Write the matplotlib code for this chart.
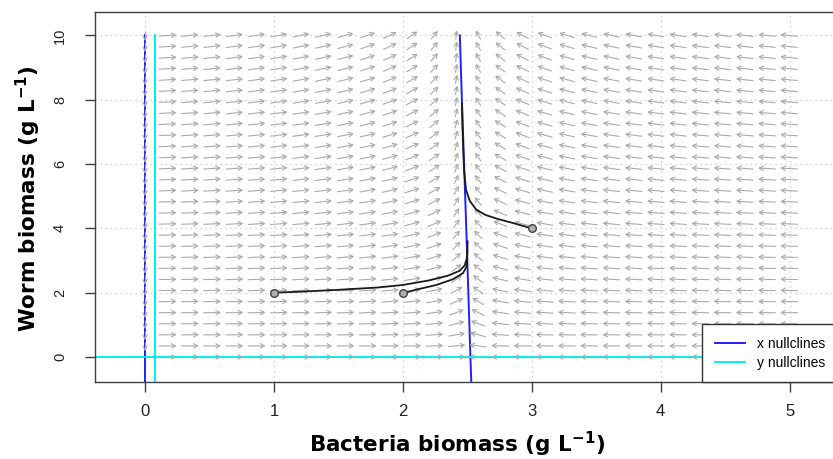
import numpy as np
import matplotlib
matplotlib.use("Agg")
import matplotlib.pyplot as plt
from matplotlib.collections import LineCollection
from matplotlib.lines import Line2D

plt.rcParams['font.family'] = ['Liberation Sans', 'DejaVu Sans']

# ---------------- data ----------------
x_ticks = [0, 1, 2, 3, 4, 5]
y_ticks = [0, 2, 4, 6, 8, 10]
x_label = r'Bacteria biomass (g L$^{\mathbf{-1}}$)'
y_label = r'Worm biomass (g L$^{\mathbf{-1}}$)'

# model behind the flow field (bacteria B, worms W)
r_growth = 1.0
K_capacity = 2.524
a_grazing = 0.00325
e_conversion = 0.042
m_mortality = 0.00328
field_B_range = [0, 5]
field_W_range = [0, 10]
field_points = 30

# nullclines
xnull1_B = [0.0, 0.0]
xnull1_W = [-0.78, 10.0]
xnull2_B = [2.442, 2.458, 2.475, 2.492, 2.508, 2.524, 2.531]
xnull2_W = [10.0, 8.0, 6.0, 4.0, 2.0, 0.0, -0.78]
ynull1_B = [-0.39, 5.6]
ynull1_W = [0.0, 0.0]
ynull2_B = [0.078, 0.078]
ynull2_W = [-0.78, 10.0]

# trajectories
traj1_B = [1.0, 1.2, 1.5, 1.8, 2.0, 2.2, 2.35, 2.44, 2.48, 2.495, 2.50]
traj1_W = [2.0, 2.03, 2.09, 2.16, 2.24, 2.38, 2.53, 2.68, 2.85, 3.05, 3.3]
traj2_B = [2.0, 2.1, 2.26, 2.39, 2.467, 2.494, 2.50, 2.502]
traj2_W = [1.98, 2.09, 2.24, 2.42, 2.61, 2.81, 3.2, 3.6]
traj3_B = [3.0, 2.86, 2.73, 2.64, 2.57, 2.52, 2.49, 2.475, 2.468, 2.462, 2.459]
traj3_W = [4.0, 4.16, 4.3, 4.42, 4.58, 4.85, 5.2, 5.8, 6.5, 7.2, 7.9]
start_B = [1.0, 2.0, 3.0]
start_W = [2.0, 2.0, 4.0]

legend_labels = ['x nullclines', 'y nullclines']

# ---------------- layout ----------------
W_PX, H_PX = 833, 459
xlim = (-0.3876, 5.6)
ylim = (-0.778, 10.74)
ax_left, ax_right = 95, 867
ax_top, ax_bottom = 11.7, 382

fig = plt.figure(figsize=(W_PX / 100, H_PX / 100), dpi=100)
ax = fig.add_axes([ax_left / W_PX, (H_PX - ax_bottom) / H_PX,
                   (ax_right - ax_left) / W_PX, (ax_bottom - ax_top) / H_PX])
ax.set_xlim(*xlim)
ax.set_ylim(*ylim)

sx = (ax_right - ax_left) / (xlim[1] - xlim[0])
sy = (ax_bottom - ax_top) / (ylim[1] - ylim[0])

# grid
for xv in x_ticks:
    ax.axvline(xv, color='#c8c8c8', lw=0.9, ls=(0, (1, 3)), zorder=1)
for yv in y_ticks:
    ax.axhline(yv, color='#c8c8c8', lw=0.9, ls=(0, (1, 3)), zorder=1)

# flow field
Bg = np.linspace(field_B_range[0], field_B_range[1], field_points)
Wg = np.linspace(field_W_range[0], field_W_range[1], field_points)
xl = Bg[1] - Bg[0]
yl = Wg[1] - Wg[0]
frac = 0.75
head = 5.0
ang = np.deg2rad(28)
segs = []
for B in Bg:
    for Wv in Wg:
        dB = r_growth * B * (1 - B / K_capacity) - a_grazing * B * Wv
        dW = Wv * (e_conversion * B - m_mortality)
        fac = np.hypot(dB / xl, dW / yl)
        if fac == 0:
            continue
        vx = frac * dB / fac * sx
        vy = frac * dW / fac * sy
        px, py = B * sx, Wv * sy
        s = np.array([px - vx / 2, py - vy / 2])
        e = np.array([px + vx / 2, py + vy / 2])
        u = (e - s) / np.hypot(vx, vy)
        h1 = e - head * np.array([u[0] * np.cos(ang) - u[1] * np.sin(ang),
                                  u[0] * np.sin(ang) + u[1] * np.cos(ang)])
        h2 = e - head * np.array([u[0] * np.cos(-ang) - u[1] * np.sin(-ang),
                                  u[0] * np.sin(-ang) + u[1] * np.cos(-ang)])
        conv = lambda p: (p[0] / sx, p[1] / sy)
        segs.append([conv(s), conv(e)])
        segs.append([conv(h1), conv(e), conv(h2)])
ax.add_collection(LineCollection(segs, colors='#ababab', linewidths=0.8, zorder=3))

# nullclines
ax.plot(xnull1_B, xnull1_W, color='#2020ff', lw=1.4, zorder=2)
ax.plot(xnull2_B, xnull2_W, color='#2020ff', lw=1.4, zorder=2)
ax.plot(ynull1_B, ynull1_W, color='#00f0f0', lw=1.4, zorder=2)
ax.plot(ynull2_B, ynull2_W, color='#00f0f0', lw=1.4, zorder=2)

# trajectories
for tb, tw in [(traj1_B, traj1_W), (traj2_B, traj2_W), (traj3_B, traj3_W)]:
    ax.plot(tb, tw, color='#1a1a1a', lw=1.3, zorder=4)
ax.plot(start_B, start_W, 'o', ms=5.5, mfc='#b0b0b0', mec='#404040', mew=1.0, zorder=5)

# axes styling
for sp in ax.spines.values():
    sp.set_color('#404040')
    sp.set_linewidth(1.0)
ax.set_xticks(x_ticks)
ax.set_yticks(y_ticks)
ax.set_xticklabels([str(v) for v in x_ticks])
ax.set_yticklabels([str(v) for v in y_ticks])
ax.tick_params(direction='out', length=7.2, width=1.0, color='#404040')
ax.tick_params(axis='x', labelsize=12, pad=9, labelcolor='#222222')
ax.tick_params(axis='y', labelsize=10.5, pad=13, labelcolor='#222222')
for lab in ax.get_yticklabels():
    lab.set_rotation(90)
    lab.set_va('center')

fig.text(457.5 / W_PX, 1 - 444 / H_PX, x_label, fontsize=15.5, fontweight='bold',
         family='DejaVu Sans', ha='center', va='center')
fig.text(28 / W_PX, 1 - 199 / H_PX, y_label, fontsize=15.5, fontweight='bold',
         family='DejaVu Sans', ha='center', va='center', rotation=90)

handles = [Line2D([], [], color='#2020ff', lw=1.4), Line2D([], [], color='#00f0f0', lw=1.4)]
leg = ax.legend(handles, legend_labels, loc='lower left',
                bbox_to_anchor=(702 / W_PX, (H_PX - ax_bottom) / H_PX),
                bbox_transform=fig.transFigure, fancybox=False, framealpha=1,
                edgecolor='#333333', borderaxespad=0, borderpad=0.9,
                handlelength=2.2, handletextpad=0.85, labelspacing=0.35,
                prop={'family': 'Liberation Sans', 'size': 10})
leg.get_frame().set_linewidth(1.0)
leg.set_zorder(6)

fig.savefig('out.png', dpi=100)
